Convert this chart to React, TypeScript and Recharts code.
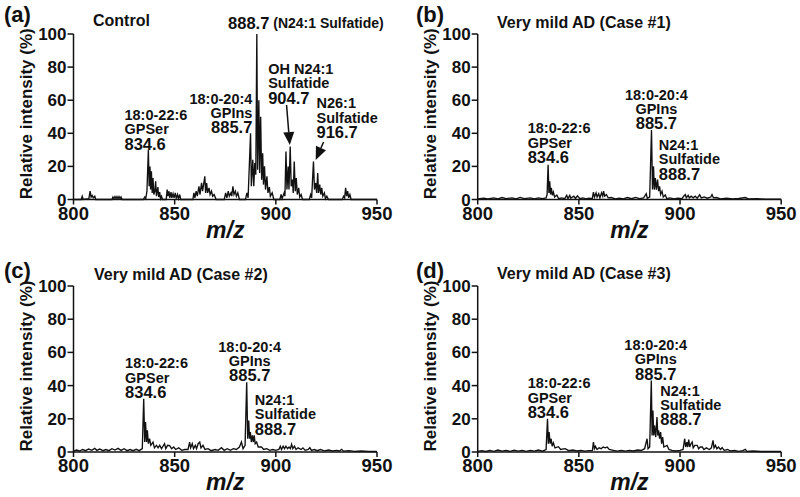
import { LineChart, Line, XAxis, YAxis, ReferenceDot, ReferenceLine, Label } from 'recharts';

const FONT = '"Liberation Sans", Arial, Helvetica, sans-serif';

const xTicks = [800, 850, 900, 950];
const yTicks = [0, 20, 40, 60, 80, 100];

// [m/z, relative intensity %]
const controlSpectrum: [number, number][] = [
  [800, 0], [803.8, 0], [804.3, 2], [804.8, 0], [807.6, 0.5], [808.2, 5], [808.7, 1.5], [809.2, 2.5], [809.8, 1], [810.5, 2], [811, 0],
  [819, 0], [819.5, 1.5], [820, 0.5], [820.5, 1.8], [821, 0.5], [821.5, 1.8], [822, 0.5], [822.5, 1.8], [823, 0.5], [823.5, 1.5], [824, 0],
  [834.5, 0], [835.2, 1.5], [835.7, 0.5], [836.3, 5], [837, 30], [837.4, 8], [837.8, 20], [838.1, 6], [838.5, 17], [838.9, 4], [839.3, 13],
  [839.7, 3], [840.2, 5], [840.6, 11], [841, 2], [841.7, 7.5], [842.1, 1.5], [842.6, 4.5], [843, 0.5], [843.5, 2], [844, 0],
  [845.8, 0], [846.3, 6], [846.7, 2], [847.2, 5], [847.6, 1], [848.2, 4.5], [848.6, 1], [849.2, 3.5], [849.7, 1], [850.3, 4], [850.8, 0.5],
  [851.4, 3], [851.9, 0.5], [852.5, 3], [853, 0],
  [859, 0], [859.5, 4], [860, 1], [860.6, 5], [861.2, 2], [862, 8], [862.5, 3], [863.3, 10], [863.8, 5], [864.9, 14], [865.3, 4],
  [865.8, 10], [866.3, 4], [867, 7], [867.5, 3], [868.2, 5], [868.8, 2], [869.5, 3], [870.5, 0],
  [874.5, 0], [875.2, 4], [875.8, 1], [876.5, 5], [877, 2], [877.8, 4], [878.2, 2], [878.8, 8], [879.3, 3], [880, 5], [880.5, 2], [881.2, 4], [882, 0],
  [885, 0], [885.7, 4], [886.3, 1], [887.5, 40], [887.9, 8], [888.6, 24], [889.1, 8], [889.6, 22], [890.1, 15], [890.6, 100], [891, 18],
  [891.6, 60], [892, 16], [892.5, 50], [893, 12], [893.5, 28], [893.9, 9], [894.4, 20], [894.9, 6], [895.6, 14], [896.1, 4], [896.8, 7.5],
  [897.3, 2], [898.2, 4], [899, 0],
  [902, 0], [902.6, 3], [903.1, 0.5], [904.1, 4], [904.5, 2], [905, 29], [905.5, 6], [906.1, 20], [906.5, 6], [907.1, 32], [907.6, 8],
  [908.2, 12], [908.6, 4], [909.1, 23], [909.6, 5], [910.1, 13], [910.6, 3], [911.3, 7], [911.8, 1.5], [912.5, 3], [913.2, 0],
  [916.5, 0], [917.2, 3], [917.7, 1], [918.6, 23], [919.1, 6], [919.7, 10], [920.2, 4], [920.7, 16], [921.1, 4], [921.7, 9], [922.2, 3],
  [922.7, 7], [923.2, 2], [924, 4], [924.5, 0.5], [925.2, 2], [926, 0],
  [932.8, 0], [933.5, 2], [934, 1], [934.5, 7], [935, 2], [935.5, 5], [936, 1], [936.6, 3], [937.2, 0], [950, 0],
];

const case1Spectrum: [number, number][] = [
  [800, 0.3], [803, 0.8], [805, 0.3], [808, 1], [810, 0.4], [812, 1.2], [814, 0.5], [817, 1], [819, 0.4], [821, 1.3], [823, 0.5],
  [826, 1], [828, 0.4], [830, 1], [832, 0.5], [833.8, 1], [834.3, 3], [834.8, 21], [835.2, 4], [835.6, 11], [836, 3], [836.4, 7],
  [836.9, 2.5], [837.4, 4.5], [838, 1.5], [839.1, 2.7], [840, 0.5], [841.5, 1], [843, 0.5], [844, 2.5], [844.6, 0.5], [845.5, 2.5],
  [846, 0.8], [847.5, 2], [848.3, 0.6], [849.3, 2.2], [850.5, 0.5], [852, 1], [853.5, 0.4], [855, 0.8], [856.6, 0.5], [857.2, 4.5],
  [857.7, 1.5], [858.5, 4], [859, 1.5], [859.8, 3.5], [860.4, 1], [861.2, 4], [861.8, 2], [862.2, 5], [862.8, 2], [863.6, 3], [864.5, 1],
  [866, 1.2], [868, 0.4], [870, 0.8], [872, 0.4], [874, 1.2], [876, 0.5], [878, 1.3], [880, 0.5], [882, 1], [883.3, 3.5], [883.8, 0.8],
  [885, 1.5], [885.9, 42], [886.4, 6], [886.9, 20], [887.3, 6], [887.8, 13], [888.3, 6], [888.9, 12], [889.4, 5], [889.9, 8], [890.4, 3],
  [891.1, 5], [891.7, 1.5], [892.7, 2.7], [893.5, 0.5], [895, 1], [897, 0.4], [899, 0.8], [901, 0.5], [901.8, 2], [902.6, 3], [903.1, 1],
  [904, 2.5], [904.6, 1], [905.5, 2], [906.5, 1], [907.5, 2], [908.5, 0.8], [909.7, 2.8], [910.5, 1], [912, 1.6], [913.5, 0.8],
  [915.2, 1.5], [915.8, 3], [916.5, 1], [918, 1.2], [920, 0.3], [923, 0.8], [926, 0.3], [929, 0.6], [932.3, 1.2], [934, 0.3],
  [938, 0.5], [942, 0.2], [950, 0.2],
];

const case2Spectrum: [number, number][] = [
  [800, 0.5], [801.5, 1.2], [803, 0.6], [804.5, 1.5], [806, 0.8], [807.5, 1.8], [809, 1], [810.5, 2.2], [811.5, 1], [813, 1.8],
  [814.5, 0.8], [816, 1.5], [817.5, 0.8], [819, 2], [820.5, 1.2], [822, 2.2], [823.5, 1], [825, 2], [826.5, 0.8], [828, 1.5],
  [829.5, 0.8], [831, 1.6], [832.5, 0.8], [834, 2], [834.7, 32], [835.2, 6], [835.6, 18], [836.1, 6], [836.5, 13], [837, 5],
  [837.6, 8], [838.2, 4], [839.3, 6], [840, 2.5], [841, 4], [841.8, 2.5], [842.6, 4], [843.5, 2], [845, 5], [845.6, 2], [846.5, 4],
  [847.5, 3.8], [848.5, 2], [849.5, 3], [850.5, 1.5], [852, 2.5], [853.5, 1], [855, 1.5], [856.6, 1.5], [857.4, 6], [857.9, 2.5],
  [858.7, 5], [859.3, 2], [860.2, 4], [860.8, 2], [861.6, 5], [862.4, 6], [863, 2.5], [864, 4], [865, 1.5], [866.5, 2], [868, 0.8],
  [870, 1.5], [871.5, 1], [873.1, 2.6], [874.5, 1], [876, 2], [877.5, 1], [879, 2], [880.5, 1.5], [882, 3], [883, 6], [883.8, 2],
  [884.8, 4], [885.6, 42], [886.1, 8], [886.6, 19], [887, 8], [887.4, 12], [887.9, 6], [888.4, 10], [888.9, 6], [889.3, 10], [889.8, 5],
  [890.5, 6], [891.3, 3], [892.9, 3], [894, 1.5], [895.5, 2], [897, 1], [898.5, 1.5], [900, 1], [901.5, 1.5], [902.2, 3.4], [902.8, 1.5],
  [903.6, 3.5], [904.3, 2], [905, 3.5], [905.8, 2], [906.5, 3], [907.2, 2], [907.8, 4.6], [908.4, 2], [909.2, 3.5], [910, 1.5],
  [911, 2.5], [912.5, 1.5], [913.4, 2.5], [914.5, 1], [916, 1.5], [916.8, 2.6], [917.6, 1], [919, 1.5], [920.5, 0.8], [922, 1.5],
  [924, 0.7], [926, 1.2], [928, 0.6], [930, 1], [931.5, 0.6], [932.5, 1.6], [933.5, 0.5], [936, 0.8], [939, 0.4], [942, 0.6],
  [946, 0.3], [950, 0.3],
];

const case3Spectrum: [number, number][] = [
  [800, 0.3], [802, 0.8], [804, 0.3], [806, 1], [808, 0.4], [810, 1.2], [812, 0.5], [814, 1], [816, 0.4], [818, 1.1], [820, 0.5],
  [822, 1], [824, 0.4], [826, 1], [828, 0.5], [830, 1.2], [832, 0.5], [833.8, 1.5], [834.5, 20], [834.9, 5], [835.3, 12], [835.8, 5],
  [836.3, 8], [836.8, 3.5], [837.4, 5.5], [838.2, 2.5], [839.9, 3.2], [841, 1.5], [843.2, 2], [845, 0.8], [847, 1.2], [849, 0.6],
  [851, 1], [853, 0.5], [855, 0.8], [856.7, 1], [857.2, 6], [857.7, 2], [858.2, 3.4], [859, 1.5], [860, 2.5], [861, 2], [862, 3],
  [863, 2.5], [864, 3], [865, 1.5], [867, 1], [869, 0.5], [871, 1], [873, 0.5], [875, 1], [877, 0.6], [879, 1.2], [881, 1], [882.5, 2],
  [883.7, 8], [884.2, 2], [885, 3], [885.8, 43], [886.2, 10], [886.6, 25], [887, 10], [887.4, 16], [888, 9], [888.6, 21], [889, 10],
  [889.4, 13], [889.9, 8], [890.4, 12], [890.9, 5], [891.4, 9], [892, 3], [893.6, 4], [894.5, 1.5], [896, 1], [898, 0.6], [900, 1],
  [901.5, 1.5], [902.3, 8], [902.8, 3], [903.4, 6], [903.8, 3], [904.3, 7.5], [904.8, 3], [905.4, 5], [906, 6], [906.5, 2.5], [907.3, 4],
  [908.5, 4], [909.2, 2], [910, 3], [911, 3], [911.8, 1.5], [913, 2.5], [914.5, 1.5], [915.5, 2.5], [916.3, 7], [916.8, 2.5],
  [917.5, 4], [918.2, 2], [919, 3], [920, 1.5], [920.8, 2.6], [921.8, 1], [923.5, 1.5], [925, 0.6], [927, 1], [929, 0.4], [931, 0.8],
  [932.3, 1.6], [933, 0.4], [936, 0.6], [940, 0.3], [945, 0.4], [950, 0.3],
];

type Anchor = 'start' | 'middle' | 'end';
type PeakLabel = { x: number; y: number; anchor: Anchor; lines: [string, number][] };

const gpser = (x: number, y: number): PeakLabel => ({ x, y, anchor: 'start', lines: [['18:0-22:6', 14.5], ['GPSer', 14.5], ['834.6', 16.5]] });
const gpins = (x: number, y: number, anchor: Anchor): PeakLabel => ({ x, y, anchor, lines: [['18:0-20:4', 14.5], ['GPIns', 14.5], ['885.7', 16.5]] });
const n241 = (x: number, y: number): PeakLabel => ({ x, y, anchor: 'start', lines: [['N24:1', 14.5], ['Sulfatide', 14.5], ['888.7', 16.5]] });

const controlLabels: PeakLabel[] = [
  gpser(825.2, 51.1),
  gpins(888.4, 60.9, 'end'),
  { x: 896.2, y: 78.9, anchor: 'start', lines: [['OH N24:1', 14.5], ['Sulfatide', 14.5], ['904.7', 16.5]] },
  { x: 920.1, y: 58.1, anchor: 'start', lines: [['N26:1', 14.5], ['Sulfatide', 14.5], ['916.7', 16.5]] },
];
const case1Labels: PeakLabel[] = [gpser(824.7, 43.0), gpins(888.3, 63.3, 'middle'), n241(889.5, 32.9)];
const case2Labels: PeakLabel[] = [gpser(825.5, 53.4), gpins(887.1, 63.4, 'middle'), n241(889.6, 31.3)];
const case3Labels: PeakLabel[] = [gpser(824.7, 41.4), gpins(888.0, 64.5, 'middle'), n241(890.2, 36.9)];

// arrows in the control panel: [x1, y1, x2 (tip), y2 (tip)]
const controlArrows: [number, number, number, number][] = [
  [905.3, 57.1, 906.9, 32.9],
  [923.6, 34.7, 919.7, 23.9],
];

const renderLabel = (lab: PeakLabel) => (p: any) => (
  <g>
    {lab.lines.map(([t, fs], i) => (
      <text key={i} x={p.cx} y={p.cy + i * 14.3} textAnchor={lab.anchor} dominantBaseline="central"
        fontSize={fs} fontWeight="bold" fontFamily={FONT} fill="#111">{t}</text>
    ))}
  </g>
);

const renderArrow = (p: any) => {
  const { x1, y1, x2, y2 } = p;
  const dx = x2 - x1, dy = y2 - y1;
  const len = Math.sqrt(dx * dx + dy * dy);
  const ux = dx / len, uy = dy / len;
  const bx = x2 - ux * 13, by = y2 - uy * 13;
  return (
    <g>
      <line x1={x1} y1={y1} x2={bx} y2={by} stroke="#111" strokeWidth={1.5} />
      <polygon points={`${x2},${y2} ${bx - uy * 5.5},${by + ux * 5.5} ${bx + uy * 5.5},${by - ux * 5.5}`} fill="#111" />
    </g>
  );
};

const YTitle = (props: any) => {
  const vb = props.viewBox;
  const cx = vb.x + vb.width - 47;
  const cy = vb.y + vb.height / 2 - 3;
  return (
    <text x={cx} y={cy} transform={`rotate(-90 ${cx} ${cy})`} textAnchor="middle" dominantBaseline="central"
      fontSize={17} fontWeight="bold" fontFamily={FONT} fill="#111">Relative intensity (%)</text>
  );
};

const XTitle = (props: any) => {
  const vb = props.viewBox;
  return (
    <text x={vb.x + vb.width / 2} y={vb.y + 30} textAnchor="middle" dominantBaseline="central"
      fontSize={23} fontWeight="bold" fontStyle="italic" fontFamily={FONT} fill="#111">m/z</text>
  );
};

type PanelProps = {
  left: number; top: number; plotLeft: number; plotTop: number; plotH: number;
  letter: string; title: string; titleX: number; titleY: number; letterX: number; letterY: number;
  spectrum: [number, number][]; labels: PeakLabel[]; main?: boolean;
};

function Panel(p: PanelProps) {
  const W = 400, H = 248, plotW = 303.5;
  const data = p.spectrum.map(([mz, v]) => ({ mz, v }));
  const axisStyle = { stroke: '#111', strokeWidth: 1.5 };
  const yTickStyle = { fill: '#111', fontSize: 17, fontWeight: 'bold', fontFamily: FONT };
  const xTickStyle = { fill: '#111', fontSize: 18.5, fontWeight: 'bold', fontFamily: FONT };
  return (
    <div style={{ position: 'absolute', left: p.left, top: p.top, width: W, height: H }}>
      <LineChart width={W} height={H} data={data}
        margin={{ top: p.plotTop, right: W - p.plotLeft - plotW, bottom: 0, left: 0 }}>
        <XAxis type="number" dataKey="mz" domain={[800, 950]} ticks={xTicks} interval={0}
          height={H - p.plotTop - p.plotH} tickSize={5} tickMargin={2}
          axisLine={axisStyle} tickLine={axisStyle} tick={xTickStyle}>
          <Label content={XTitle} />
        </XAxis>
        <YAxis type="number" domain={[0, 100]} ticks={yTicks} interval={0} width={p.plotLeft}
          tickSize={6} tickMargin={1} axisLine={axisStyle} tickLine={axisStyle} tick={yTickStyle}>
          <Label content={YTitle} />
        </YAxis>
        <Line type="linear" dataKey="v" stroke="#111" strokeWidth={1.35} dot={false} isAnimationActive={false} />
        {p.labels.map((lab, i) => (
          <ReferenceDot key={i} x={lab.x} y={lab.y} r={0} ifOverflow="visible" shape={renderLabel(lab)} />
        ))}
        {p.main && controlArrows.map((a, i) => (
          <ReferenceLine key={'a' + i} segment={[{ x: a[0], y: a[1] }, { x: a[2], y: a[3] }]} ifOverflow="visible" shape={renderArrow} />
        ))}
        {p.main && (
          <ReferenceDot x={876.4} y={106.5} r={0} ifOverflow="visible" shape={(d: any) => (
            <text x={d.cx} y={d.cy} dominantBaseline="central" fontWeight="bold" fontFamily={FONT} fill="#111">
              <tspan fontSize={16.5}>888.7</tspan>
              <tspan fontSize={14}> (N24:1 Sulfatide)</tspan>
            </text>
          )} />
        )}
      </LineChart>
      <div style={{ position: 'absolute', left: p.letterX, top: p.letterY - 12, fontSize: 22, lineHeight: '24px', fontWeight: 'bold', fontFamily: FONT, color: '#111' }}>{p.letter}</div>
      <div style={{ position: 'absolute', left: p.titleX, top: p.titleY - 9, fontSize: 16, lineHeight: '18px', fontWeight: 'bold', fontFamily: FONT, color: '#111', whiteSpace: 'nowrap' }}>{p.title}</div>
    </div>
  );
}

export default function App() {
  return (
    <div style={{ position: 'absolute', left: 0, top: 0, width: 800, height: 497, background: '#fff', overflow: 'hidden' }}>
      <Panel left={0} top={0} plotLeft={73.5} plotTop={34} plotH={165.5} letter="(a)" letterX={4} letterY={15}
        title="Control" titleX={93} titleY={21} spectrum={controlSpectrum} labels={controlLabels} main />
      <Panel left={400} top={0} plotLeft={77.7} plotTop={34} plotH={165.5} letter="(b)" letterX={16} letterY={15}
        title="Very mild AD (Case #1)" titleX={97} titleY={22.5} spectrum={case1Spectrum} labels={case1Labels} />
      <Panel left={0} top={250} plotLeft={73.5} plotTop={36} plotH={166} letter="(c)" letterX={4} letterY={21}
        title="Very mild AD (Case #2)" titleX={94} titleY={25} spectrum={case2Spectrum} labels={case2Labels} />
      <Panel left={400} top={250} plotLeft={77.7} plotTop={36} plotH={166} letter="(d)" letterX={16} letterY={21}
        title="Very mild AD (Case #3)" titleX={97} titleY={23.5} spectrum={case3Spectrum} labels={case3Labels} />
    </div>
  );
}
